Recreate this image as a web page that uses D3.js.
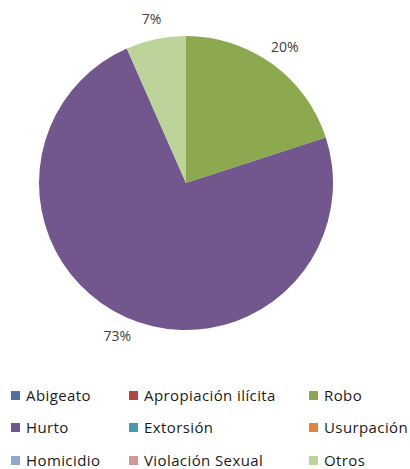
<!DOCTYPE html>
<html><head><meta charset="utf-8">
<script src="https://cdn.jsdelivr.net/npm/d3@7"></script>
<style>body{margin:0;background:#fff}svg{display:block}</style>
</head><body>
<script>
const categories = ["Abigeato","Apropiación ilícita","Robo","Hurto","Extorsión","Usurpación","Homicidio","Violación Sexual","Otros"];
const values = [0,0,20,73.4,0,0,0,0,6.6];
const colors = ["#4A72A8","#B04744","#8CA94F","#72578F","#4599B0","#E0843E","#8EA8CF","#D39694","#BCD39A"];

const W=410,H=469;
const svg=d3.select("body").append("svg").attr("width",W).attr("height",H);
const cx=186,cy=183,r=147;
const data=categories.map((c,i)=>({c,v:values[i],col:colors[i]}));
const pie=d3.pie().value(d=>d.v).sort(null);
const arcs=pie(data);
const arc=d3.arc().innerRadius(0).outerRadius(r);
const g=svg.append("g").attr("transform",`translate(${cx},${cy})`);
g.selectAll("path").data(arcs.filter(a=>a.data.v>0)).join("path")
 .attr("d",arc).attr("fill",d=>d.data.col);
const lab=d3.arc().innerRadius(168).outerRadius(168);
const total=d3.sum(values);
g.selectAll("text").data(arcs.filter(a=>a.data.v>0)).join("text")
 .attr("transform",d=>`translate(${lab.centroid(d)})`)
 .attr("text-anchor","middle").attr("dy","0.35em")
 .attr("font-family","Open Sans, sans-serif").attr("font-size",14).attr("fill","#404040")
 .text(d=>Math.round(d.data.v/total*100)+"%");

const colX=[11,129,309], rowY=[396,428,461];
const lg=svg.append("g");
data.forEach((d,i)=>{
  const x=colX[i%3], y=rowY[Math.floor(i/3)];
  lg.append("rect").attr("x",x).attr("y",y-5).attr("width",9).attr("height",9).attr("fill",d.col);
  lg.append("text").attr("x",x+15).attr("y",y).attr("dy","0.35em")
   .attr("font-family","Open Sans, sans-serif").attr("font-size",15).attr("letter-spacing",0.4).attr("fill","#1a1a1a").text(d.c);
});
</script>
</body></html>
